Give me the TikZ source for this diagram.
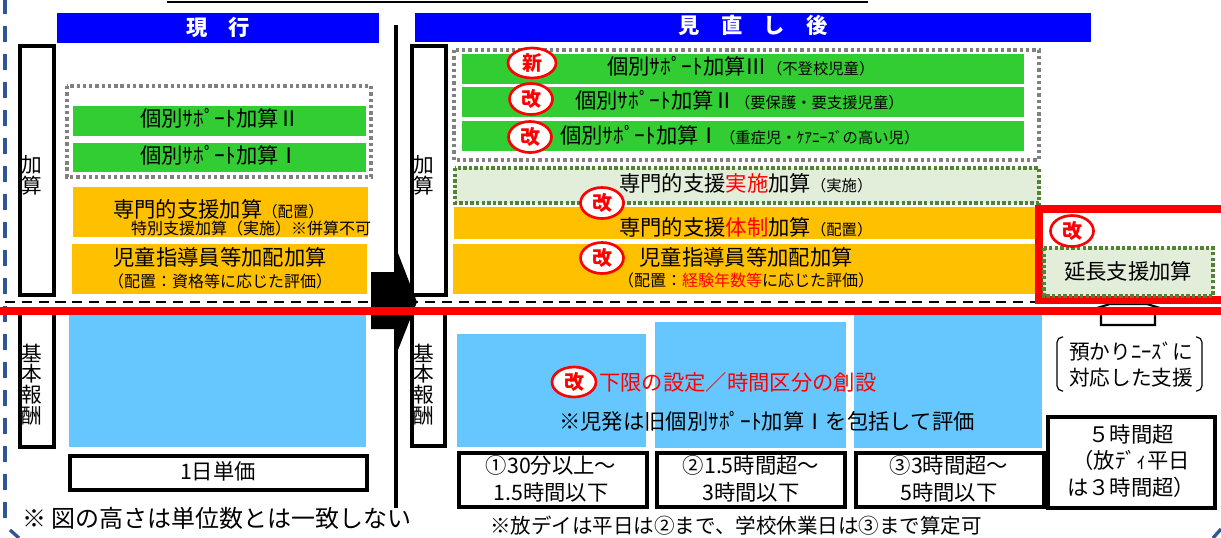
\documentclass[tikz,border=0pt]{standalone}
\usepackage{fontspec}
\setmainfont{Noto Sans CJK JP}
\usetikzlibrary{shapes.geometric}
\definecolor{hdrblue}{RGB}{0,0,255}
\definecolor{grn}{RGB}{50,205,50}
\definecolor{org}{RGB}{255,192,0}
\definecolor{sky}{RGB}{102,199,255}
\definecolor{pale}{RGB}{226,238,217}
\definecolor{dotgrn}{RGB}{84,130,53}
\definecolor{dotgry}{RGB}{128,128,128}
\definecolor{frameblue}{RGB}{47,85,151}
\definecolor{redc}{RGB}{255,0,0}
\tikzset{
  wh/.style 2 args={minimum width=#1*0.75pt,minimum height=#2*0.75pt},
  boxa/.style={inner sep=0pt,outer sep=0pt,anchor=north west},
  hdr/.style={inner sep=0pt,outer sep=0pt,text=white,font=\fontsize{16}{18}\selectfont\bfseries},
  hdrbox/.style={boxa,fill=hdrblue},
  green box/.style={boxa,fill=grn},
  orange box/.style={boxa,fill=org},
  sky box/.style={boxa,fill=sky},
  side box/.style={draw=black,line width=3pt,fill=white,inner sep=0pt,outer sep=0pt,anchor=north west},
  unit box/.style={draw=black,line width=3pt,fill=white,inner sep=0pt,outer sep=0pt,anchor=north west},
  gray dots/.style={draw=dotgry,line width=2.5pt,dash pattern=on 2.5pt off 2.2pt},
  green fill/.style={fill=pale},
  green dots/.style={draw=dotgrn,line width=2.6pt,dash pattern=on 2.6pt off 1.6pt},
  stamp/.style={ellipse,draw=redc,fill=white,line width=2pt,inner sep=0pt,wh={43}{31},text=redc,font=\fontsize{15}{15}\selectfont\bfseries},
  lbl/.style={inner sep=0pt,outer sep=0pt,font=\fontsize{16}{18}\selectfont},
  lblw/.style={lbl,anchor=west},
  sub/.style={inner sep=0pt,outer sep=0pt,font=\fontsize{12}{14}\selectfont},
  two/.style={inner sep=0pt,outer sep=0pt,align=center,font=\fontsize{16}{20}\selectfont},
  vlbl/.style={inner sep=0pt,outer sep=0pt,align=center,font=\fontsize{15.5}{15.6}\selectfont},
}
\newcommand{\sm}[1]{{\fontsize{11.5}{14}\selectfont #1}}
\newcommand{\rd}[1]{\textcolor{redc}{#1}}
\begin{document}
\begin{tikzpicture}[x=0.75pt,y=-0.75pt]
\useasboundingbox (0,0) rectangle (1221,537);
\begin{scope}
\clip (0,0) rectangle (1221,537);
% outer dashed frame
\draw[frameblue,line width=2.5pt,dash pattern=on 12pt off 9pt,dash phase=0.8pt]
  (5,-1) -- (5,519);
\draw[frameblue,line width=2.5pt] (10,530) -- (19,538);
\draw[frameblue,line width=2.5pt] (1213,538) -- (1221,529);
% cropped title rule
\draw[black,line width=1.1pt] (167,2) -- (868,2);
% dashed separator
\draw[black,line width=1.9pt,dash pattern=on 7.6pt off 5pt] (5,302) -- (1040,302);

% headers
\node[hdrbox,wh={322}{30}] (h1) at (57,13) {};
\node[hdr] (h1t) at (218,27) {現　行};
\node[hdrbox,wh={676}{29}] (h2) at (415,13) {};
\node[hdr] (h2t) at (753,25) {見　直　し　後};

% side boxes
\node[side box,wh={34}{249}] (s1) at (20,46) {};
\node[side box,wh={34}{249}] (s2) at (412,46) {};
\node[side box,wh={34}{135}] (s3) at (20,312) {};
\node[side box,wh={33}{134}] (s4) at (412,312) {};

\node[vlbl] (v1) at (32,175.5) {加\\算};
\node[vlbl] (v2) at (424,175.5) {加\\算};
\node[vlbl] (v3) at (32,384.5) {基\\本\\報\\酬};
\node[vlbl] (v4) at (424,384.5) {基\\本\\報\\酬};

% big arrow
\draw[black,line width=3.4pt] (396,25) -- (396,508);
\fill[black] (371,272) -- (396,272) -- (396,248) -- (417,302) -- (396,355) -- (396,329) -- (371,329) -- cycle;

% left column
\draw[gray dots] (67,86) rectangle (371,177);
\node[green box,wh={293}{30}] (a1) at (73,106) {};
\node[lbl] (a1t) at (220,118) {個別ｻﾎﾟｰﾄ加算Ⅱ};
\node[green box,wh={293}{29}] (a2) at (73,143) {};
\node[lbl] (a2t) at (220,155) {個別ｻﾎﾟｰﾄ加算Ⅰ};
\node[orange box,wh={295}{50}] (a3) at (73,187) {};
\node[lblw] (a3t) at (113,209) {専門的支援加算\sm{（配置）}};
\node[sub,anchor=east] (a3s) at (371,228) {特別支援加算（実施）※併算不可};
\node[orange box,wh={295}{50}] (a4) at (72,244) {};
\node[lbl] (a4t) at (220,257) {児童指導員等加配加算};
\node[sub] (a4s) at (220,281) {（配置：資格等に応じた評価）};
\node[sky box,wh={297}{132}] (a5) at (69,315) {};
\node[unit box,wh={297}{34}] (a6) at (70,456) {};
\node[lbl] (a6t) at (218,471) {1日単価};
\node[inner sep=0pt,outer sep=0pt,anchor=west,font=\fontsize{18}{20}\selectfont] (note1) at (22,518) {※ 図の高さは単位数とは一致しない};

% right column: green group
\draw[gray dots] (454,50) rectangle (1039,160);
\node[green box,wh={562}{30}] (b1) at (462,54) {};
\node[green box,wh={562}{30}] (b2) at (462,87) {};
\node[green box,wh={562}{30}] (b3) at (462,121) {};
\node[lblw] (b1t) at (607,66) {個別ｻﾎﾟｰﾄ加算Ⅲ\sm{（不登校児童）}};
\node[lblw] (b2t) at (575,100) {個別ｻﾎﾟｰﾄ加算Ⅱ\sm{（要保護・要支援児童）}};
\node[lblw] (b3t) at (560,135) {個別ｻﾎﾟｰﾄ加算Ⅰ\sm{（重症児・ｹｱﾆｰｽﾞの高い児）}};

% right column: support
\fill[green fill] (455,168) rectangle (1039,203);
\draw[green dots] (455,168) rectangle (1039,203);
\node[lblw] (b4t) at (619,183) {専門的支援\rd{実施}加算\sm{（実施）}};
\node[orange box,wh={584}{32}] (b5) at (454,207) {};
\node[lblw] (b5t) at (619,227) {専門的支援\rd{体制}加算\sm{（配置）}};
\node[orange box,wh={585}{50}] (b6) at (453,244) {};
\node[lbl] (b6t) at (746,257) {児童指導員等加配加算};
\node[sub] (b6s) at (746,280) {（配置：\rd{経験年数等}に応じた評価）};

% small house shape
\draw[black,line width=1.6pt,fill=white] (1101,325) -- (1155,325) -- (1155,309) -- (1160,308) -- (1147,304) -- (1110,304) -- (1097,308) -- (1101,309) -- cycle;

% red lines
\draw[redc,line width=6pt] (-2,311) -- (1223,311);
\draw[redc,line width=6pt] (1039,209) rectangle (1230,300);
\fill[green fill] (1044,248) rectangle (1213,296);
\draw[green dots] (1044,248) rectangle (1213,296);
\node[lbl] (c1t) at (1128,271) {延長支援加算};

% stamps
\node[stamp,wh={48}{30}] (st1) at (532,63) {新};
\node[stamp] (st2) at (531,99) {改};
\node[stamp] (st3) at (530,137) {改};
\node[stamp] (st4) at (602,203) {改};
\node[stamp] (st5) at (602,258) {改};
\node[stamp] (st6) at (1072,231) {改};

% base fee bars
\node[sky box,wh={189}{113}] (d1) at (457,334) {};
\node[sky box,wh={190.5}{126}] (d2) at (655,322) {};
\node[sky box,wh={188.5}{133}] (d3) at (853.5,315) {};
\node[stamp,wh={44}{30}] (st7) at (574,382) {改};
\node[lblw,text=redc] (d4) at (599,382) {下限の設定／時間区分の創設};
\node[lbl] (d5) at (767,421) {※児発は旧個別ｻﾎﾟｰﾄ加算Ⅰを包括して評価};

% unit boxes
\node[unit box,wh={188}{54}] (e1) at (458.5,453) {};
\node[two] (e1t) at (551,479) {①30分以上～\\1.5時間以下};
\node[unit box,wh={188}{54}] (e2) at (657,453) {};
\node[two] (e2t) at (751,479) {②1.5時間超～\\3時間以下};
\node[unit box,wh={188}{54}] (e3) at (855.5,453) {};
\node[two] (e3t) at (949,479) {③3時間超～\\5時間以下};
\node[unit box,wh={167}{91}] (e4) at (1048,417) {};
\node[two] (e4t) at (1131,461) {５時間超\\（放ﾃﾞｨ平日\\は３時間超）};

% needs label with brackets
\node[inner sep=0pt,outer sep=0pt,align=center,font=\fontsize{15.5}{19.5}\selectfont] (f1) at (1131,365) {預かりﾆｰｽﾞに\\対応した支援};
\draw[black,line width=0.9pt,rounded corners=4pt] (1063,337) -- (1057,337) -- (1057,391) -- (1063,391);
\draw[black,line width=0.9pt,rounded corners=4pt] (1196,337) -- (1202,337) -- (1202,391) -- (1196,391);

\node[inner sep=0pt,outer sep=0pt,anchor=west,font=\fontsize{15.4}{17}\selectfont] (note2) at (490,526) {※放デイは平日は②まで、学校休業日は③まで算定可};
\end{scope}
\end{tikzpicture}
\end{document}
